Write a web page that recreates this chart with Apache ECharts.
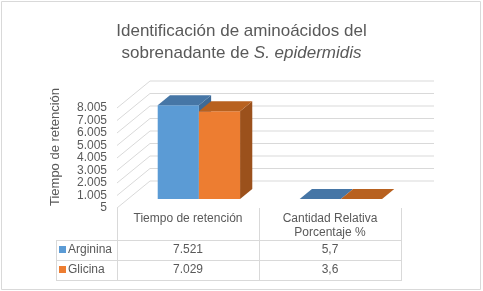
<!DOCTYPE html>
<html>
<head>
<meta charset="utf-8">
<script src="https://cdn.jsdelivr.net/npm/echarts@6/dist/echarts.min.js"></script>
<style>
  html, body { margin: 0; padding: 0; background: #fff; }
  #chart { width: 483px; height: 291px; }
</style>
</head>
<body>
<div id="chart"></div>
<script>
// data
const categories = ['Tiempo de retención', 'Cantidad Relativa\nPorcentaje %'];
const seriesNames = ['Arginina', 'Glicina'];
const arginina = [7521, 5.7];
const glicina = [7029, 3.6];
const yTicks = [5, 1005, 2005, 3005, 4005, 5005, 6005, 7005, 8005];

const Y_MIN = 5, Y_MAX = 8005, Y_STEP = 1000;
const TXT = '#595959';
const LINE = '#D9D9D9';
const FONT = '"Liberation Sans", Arial, sans-serif';

// fake 3D depth of the walls / bars
const DX = 33, DY = 27;
const F0 = 0.33, F1 = 0.37;
const BAR_W = 0.29;

const COLORS = [
  { front: '#5B9BD5', top: '#4676A6', side: '#3E6A96' },
  { front: '#ED7D31', top: '#B8611F', side: '#9B511C' },
];

const fmt = (v) => v.toLocaleString('de-DE');

const chart = echarts.init(document.getElementById('chart'), null, { renderer: 'canvas' });

function wallLines(params, api) {
  const cs = params.coordSys;
  const y = api.coord([0, api.value(1)])[1];
  return {
    type: 'polyline',
    silent: true,
    shape: { points: [[cs.x, y], [cs.x + DX, y - DY], [cs.x + cs.width + DX, y - DY]] },
    style: { stroke: LINE, fill: null, lineWidth: 1 },
  };
}

function bar3d(idx) {
  return (params, api) => {
    const cat = api.value(0);
    const v = api.value(1);
    const base = api.coord([cat, Y_MIN]);
    const top = api.coord([cat, v]);
    const band = api.size([1, 0])[0];
    const w = band * BAR_W;
    const x0 = base[0] + (idx - 1) * w + DX * F0;
    const yb = base[1] - DY * F0;
    const yt = Math.min(top[1], base[1]) - DY * F0;
    const dx = DX * F1, dy = DY * F1;
    const c = COLORS[idx];
    return {
      type: 'group',
      children: [
        { type: 'polygon', shape: { points: [[x0 + w, yt], [x0 + w + dx, yt - dy], [x0 + w + dx, yb - dy], [x0 + w, yb]] }, style: { fill: c.side } },
        { type: 'rect', shape: { x: x0, y: yt, width: w, height: yb - yt }, style: { fill: c.front } },
        { type: 'polygon', shape: { points: [[x0, yt], [x0 + w, yt], [x0 + w + dx, yt - dy], [x0 + dx, yt - dy]] }, style: { fill: c.top } },
      ],
    };
  };
}

chart.setOption({
  animation: false,
  textStyle: { fontFamily: FONT },
  title: {
    text: '{a|Identificación de aminoácidos del}\n{a|sobrenadante de }{i|S. epidermidis}',
    left: 'center',
    top: 15,
    textStyle: {
      fontWeight: 'normal',
      rich: {
        a: { fontSize: 17, color: TXT, lineHeight: 22, fontFamily: FONT, fontWeight: 'normal' },
        i: { fontSize: 17, color: TXT, lineHeight: 22, fontFamily: FONT, fontWeight: 'normal', fontStyle: 'italic' },
      },
    },
  },
  grid: { left: 117, right: 82, top: 108, bottom: 83 },
  xAxis: {
    type: 'category',
    data: categories,
    axisLine: { show: false },
    axisTick: { show: true, length: 73, lineStyle: { color: LINE } },
    axisLabel: { margin: 4, verticalAlign: 'top', lineHeight: 14, fontSize: 12, color: TXT, interval: 0 },
    splitLine: { show: false },
  },
  yAxis: {
    type: 'value',
    min: Y_MIN,
    max: Y_MAX,
    interval: Y_STEP,
    axisLine: { show: false },
    axisTick: { show: false },
    splitLine: { show: false },
    axisLabel: {
      margin: 10, fontSize: 12, lineHeight: 12, color: TXT,
      showMinLabel: true, showMaxLabel: true, hideOverlap: false,
      formatter: (v) => fmt(v),
    },
  },
  series: [
    {
      type: 'custom',
      name: 'grid',
      silent: true,
      renderItem: wallLines,
      data: yTicks.map((t) => [0, t]),
      z: 1,
    },
    {
      type: 'custom',
      name: seriesNames[0],
      renderItem: bar3d(0),
      data: arginina.map((v, i) => [i, v]),
      z: 2,
    },
    {
      type: 'custom',
      name: seriesNames[1],
      renderItem: bar3d(1),
      data: glicina.map((v, i) => [i, v]),
      z: 3,
    },
  ],
});

// data table under the axis
const colX = categories.map((c) => chart.convertToPixel({ xAxisIndex: 0 }, c));
const rowY = [250, 270];
const rows = [arginina, glicina];
const g = [];

g.push({ type: 'rect', silent: true, shape: { x: 1.5, y: 1.5, width: 479, height: 288 }, style: { fill: null, stroke: LINE, lineWidth: 1 } });
[240.5, 260.5, 280.5].forEach((y) => {
  g.push({ type: 'line', silent: true, shape: { x1: 56, y1: y, x2: 401, y2: y }, style: { stroke: LINE, lineWidth: 1 } });
});
g.push({ type: 'line', silent: true, shape: { x1: 56.5, y1: 240, x2: 56.5, y2: 281 }, style: { stroke: LINE, lineWidth: 1 } });

rows.forEach((vals, r) => {
  g.push({ type: 'rect', silent: true, shape: { x: 59, y: rowY[r] - 4, width: 7, height: 7 }, style: { fill: COLORS[r].front } });
  g.push({ type: 'text', silent: true, x: 68, y: rowY[r], style: { text: seriesNames[r], fontSize: 12, fill: TXT, fontFamily: FONT, verticalAlign: 'middle' } });
  vals.forEach((v, c) => {
    g.push({ type: 'text', silent: true, x: colX[c], y: rowY[r], style: { text: fmt(v), fontSize: 12, fill: TXT, fontFamily: FONT, align: 'center', verticalAlign: 'middle' } });
  });
});

g.push({
  type: 'text', silent: true, x: 55, y: 147, rotation: Math.PI / 2,
  style: { text: 'Tiempo de retención', fontSize: 13, fill: TXT, fontFamily: FONT, align: 'center', verticalAlign: 'middle' },
});

chart.setOption({ graphic: g });
</script>
</body>
</html>
